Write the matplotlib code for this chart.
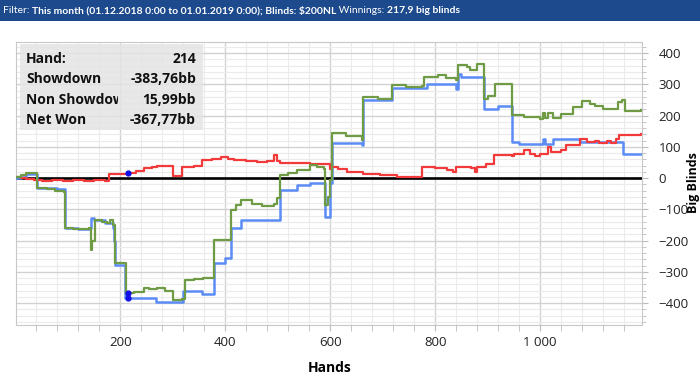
import matplotlib
matplotlib.use("Agg")
import matplotlib.pyplot as plt
from matplotlib.patches import Rectangle
from matplotlib.transforms import Bbox, TransformedBbox

plt.rcParams['font.family'] = ['Open Sans', 'DejaVu Sans']

# showdown winnings (blue line), hand number -> big blinds
sd_hands = [1, 10, 20, 40, 41, 60, 80, 94, 95, 120, 140, 144, 150, 170, 185, 188, 190, 207, 208,
            267, 268, 318, 320, 352, 355, 378, 400, 410, 429, 505, 537, 562, 588, 590, 596,
            600, 603, 655, 660, 663, 717, 784, 839, 844, 850, 892, 920, 946, 960, 1003, 1005,
            1010, 1025, 1076, 1158, 1193]
sd_bb = [0, 5, 15, 12, -30, -33, -35, -37, -158, -162, -160, -128, -135, -145, -160, -200, -278, -278, -384,
         -384, -396, -396, -362, -362, -370, -272, -256, -160, -134, -38, -22, -16, -16, -124, -124,
         -16, 112, 112, 106, 250, 289, 300, 285, 332, 324, 221, 230, 116, 109, 109, 125,
         109, 124, 116, 78, 78]

# net won (green line)
net_hands = [1, 10, 20, 38, 41, 60, 75, 92, 95, 110, 130, 140, 143, 146, 151, 165, 175, 181, 186,
             190, 209, 210, 214, 225, 244, 255, 270, 285, 301, 318, 323, 340, 358, 378, 411, 420,
             429, 450, 470, 492, 498, 505, 520, 537, 562, 575, 588, 590, 596, 600, 603, 630, 660,
             663, 690, 717, 745, 775, 778, 806, 820, 839, 844, 860, 866, 880, 892, 900, 914, 946,
             947, 970, 1000, 1005, 1010, 1015, 1025, 1040, 1063, 1080, 1095, 1104, 1120, 1136,
             1149, 1155, 1162, 1193]
net_bb = [3, 10, 17, 17, -30, -36, -40, -44, -158, -162, -163, -160, -230, -200, -134, -140, -142, -134, -150,
          -272, -272, -371, -367.77, -365, -352, -355, -350, -362, -390, -388, -326, -322, -318, -198, -102, -85,
          -70, -82, -88, -84, -65, 10, 18, 26, 42, 35, 30, -86, -60, -6, 144, 135, 122,
          260, 252, 298, 292, 295, 324, 331, 320, 314, 362, 355, 346, 365, 255, 262, 303, 300,
          202, 195, 188, 208, 192, 208, 192, 207, 228, 246, 238, 232, 223, 223,
          244, 250, 215, 218]

# non showdown winnings (red line)
nsd_hands = [1, 10, 20, 35, 50, 70, 90, 110, 130, 150, 170, 178, 200, 214, 230, 244, 260, 270, 295,
             301, 318, 340, 356, 375, 391, 405, 416, 440, 460, 480, 492, 498, 505, 537, 562, 580,
             600, 603, 615, 632, 663, 695, 727, 772, 775, 800, 822, 834, 840, 869, 875, 880, 896, 911,
             946, 950, 970, 980, 990, 1000, 1014, 1020, 1040, 1050, 1076, 1090, 1104, 1112, 1128,
             1135, 1144, 1150, 1193]
nsd_bb = [5, 2, -3, -5, -8, -6, -10, -7, -8, -5, -8, 13, 15, 15.99, 22, 32, 36, 39, 38,
          6, 36, 40, 58, 62, 68, 62, 58, 55, 52, 55, 74, 55, 49, 49, 45, 44,
          29, 36, 30, 20, 15, 10, 4, 4, 36, 32, 26, 20, 36, 32, 20, 36, 45, 74,
          72, 79, 90, 79, 70, 79, 100, 84, 90, 106, 127, 116, 120, 114, 120,
          112, 127, 138, 140]

# hovered hand
sel_hand = 214
sel_vals = [15.99, -383.76, -367.77]

x_ticks = [200, 400, 600, 800, 1000]
x_labels = ["200", "400", "600", "800", "1 000"]
y_ticks = [-400, -300, -200, -100, 0, 100, 200, 300, 400]

info_rows = [("Hand:", "214"), ("Showdown", "-383,76bb"),
             ("Non Showdown", "15,99bb"), ("Net Won", "-367,77bb")]

W, H = 700, 385


def fx(x):
    return x / W


def fy(y):
    return 1 - y / H


fig = plt.figure(figsize=(7, 3.85), dpi=100)
ax = fig.add_axes([fx(16), fy(325), (642 - 16) / W, (325 - 42) / H])

ax.plot(sd_hands, sd_bb, drawstyle='steps-post', color='#5B8CF5', lw=1.8, zorder=3)
ax.plot(nsd_hands, nsd_bb, drawstyle='steps-post', color='#F23A3A', lw=1.6, zorder=4)
ax.plot(net_hands, net_bb, drawstyle='steps-post', color='#6F9B45', lw=1.6, zorder=5)
ax.axhline(0, color='black', lw=1.9, zorder=2)
ax.plot([sel_hand] * 3, sel_vals, 'o', color='#1010E6', ms=3.5, zorder=6)

ax.set_xlim(1, 1194)
ax.set_ylim(-470, 436)
ax.set_xticks(x_ticks)
ax.set_xticklabels(x_labels)
ax.set_xticks(range(40, 1194, 40), minor=True)
ax.set_yticks(y_ticks)
ax.set_yticks(range(-460, 436, 20), minor=True)
ax.yaxis.tick_right()
ax.tick_params(axis='both', which='both', colors='#BBBBBB', labelcolor='#222222', labelsize=9.5)
ax.tick_params(axis='x', which='major', length=4, pad=4)
ax.tick_params(axis='x', which='minor', length=4)
ax.tick_params(axis='y', which='major', length=4, pad=8)
ax.tick_params(axis='y', which='minor', length=3)
ax.grid(True, which='major', color='#D2D2D2', lw=1.0, zorder=0)
ax.grid(True, which='minor', color='#EBEBEB', lw=0.8, zorder=0)
for s in ax.spines.values():
    s.set_color('#C8C8C8')
ax.set_axisbelow(True)

fig.text(fx(330), fy(368), "Hands", ha='center', va='center', fontsize=10, fontweight='bold')
fig.text(fx(693), fy(183), "Big Blinds", ha='center', va='center', rotation=90,
         fontsize=9, fontweight='bold')

# header bar
fig.add_artist(Rectangle((0, fy(21)), 1, 21 / H, transform=fig.transFigure,
                         facecolor='#1C4A8C', edgecolor='none', zorder=10))
pieces = [("Filter: ", 'normal'),
          ("This month (01.12.2018 0:00 to 01.01.2019 0:00); Blinds: $200NL", 'bold'),
          (" Winnings: ", 'normal'),
          ("217,9 big blinds", 'bold')]
renderer = fig.canvas.get_renderer()
xpos = 3
for txt, wt in pieces:
    t = fig.text(fx(xpos), fy(10.5), txt, color='white', fontsize=7.5, fontweight=wt,
                 family=['Lato', 'DejaVu Sans'], va='center', ha='left', zorder=11)
    xpos += t.get_window_extent(renderer).width

# info box
fig.add_artist(Rectangle((fx(20), fy(130)), 183 / W, 86 / H, transform=fig.transFigure,
                         facecolor='#E4E4E4', edgecolor='none', alpha=0.85, zorder=8))
clip = TransformedBbox(Bbox([[fx(20), fy(130)], [fx(118), fy(44)]]), fig.transFigure)
for i, (lab, val) in enumerate(info_rows):
    yy = 59 + i * 20.3
    t = fig.text(fx(26), fy(yy), lab, fontsize=10, fontweight='bold', va='center', ha='left',
                 color='#111111', zorder=9)
    t.set_clip_box(clip)
    t.set_clip_on(True)
    fig.text(fx(196), fy(yy), val, fontsize=10, fontweight='bold', va='center', ha='right',
             color='#111111', zorder=9)

fig.savefig('out.png', dpi=100)
